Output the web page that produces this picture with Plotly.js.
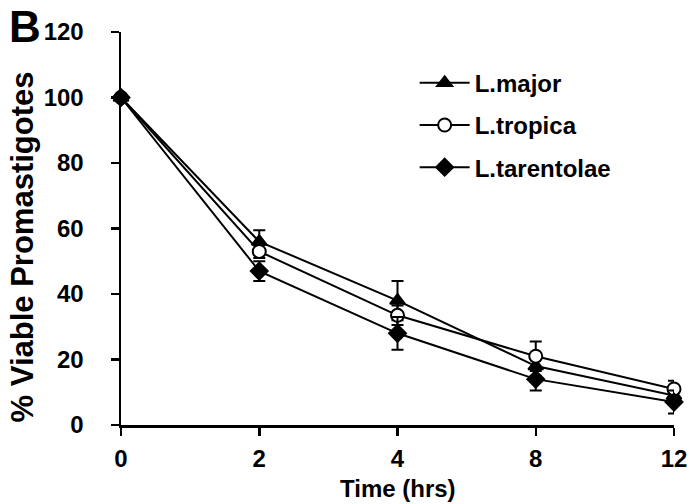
<!DOCTYPE html>
<html>
<head>
<meta charset="utf-8">
<script src="https://cdn.plot.ly/plotly-3.0.1.min.js"></script>
<style>html,body{margin:0;padding:0;background:#fff;}#chart{width:690px;height:504px;}</style>
</head>
<body>
<div id="chart"></div>
<script>
const timeLabels = ['0', '2', '4', '8', '12'];
const majorVals = [100, 56, 38, 18, 9];
const majorErr = [0, 3.5, 6, 3, 2];
const tropicaVals = [100, 53, 33.5, 21, 11];
const tropicaErr = [0, 2, 3, 4.5, 2.5];
const tarentolaeVals = [100, 47, 28, 14, 7];
const tarentolaeErr = [0, 3, 5, 3.5, 3.5];
const seriesNames = ['L.major', 'L.tropica', 'L.tarentolae'];

const FONT = 'Liberation Sans, Arial, sans-serif';

function mk(name, vals, errs, symbol, fill, size, group) {
  return {
    type: 'scatter', mode: 'lines+markers', name: name,
    x: timeLabels, y: vals, legendgroup: group, cliponaxis: false,
    line: {color: '#000', width: 2},
    marker: {symbol: symbol, size: size, color: fill, line: {color: '#000', width: 2}},
    error_y: {type: 'data', array: errs, visible: true, color: '#000', thickness: 2, width: 6}
  };
}

const data = [
  mk(seriesNames[0], majorVals, majorErr, 'triangle-up', '#000', 13, 'a'),
  mk(seriesNames[1], tropicaVals, tropicaErr, 'circle', '#fff', 13, 'b'),
  mk(seriesNames[2], tarentolaeVals, tarentolaeErr, 'diamond', '#000', 13, 'c')
];

const layout = {
  width: 690, height: 504,
  margin: {l: 121, r: 16, t: 32, b: 79},
  paper_bgcolor: '#fff', plot_bgcolor: '#fff',
  font: {family: FONT, color: '#000', size: 24, weight: 'bold'},
  showlegend: true,
  legend: {
    x: 0.531, y: 0.927, xanchor: 'left', yanchor: 'top',
    font: {family: FONT, size: 24, color: '#000', weight: 'bold'},
    bgcolor: 'rgba(0,0,0,0)', tracegroupgap: 8, itemwidth: 50
  },
  xaxis: {
    type: 'category', range: [0, 4], showgrid: false, zeroline: false,
    showline: true, linecolor: '#000', linewidth: 2.5,
    ticks: 'outside', ticklen: 8, tickwidth: 2.5, tickcolor: '#000',
    ticklabelstandoff: 3,
    tickfont: {family: FONT, size: 24, color: '#000', weight: 'bold'}
  },
  yaxis: {
    range: [0, 120], dtick: 20, showgrid: false, zeroline: false,
    showline: true, linecolor: '#000', linewidth: 2.5,
    ticks: 'outside', ticklen: 8, tickwidth: 2.5, tickcolor: '#000',
    ticklabelstandoff: 22,
    tickfont: {family: FONT, size: 24, color: '#000', weight: 'bold'}
  },
  annotations: [
    {text: '% Viable Promastigotes', xref: 'paper', yref: 'paper', x: -0.179, y: 0.452,
     xanchor: 'center', yanchor: 'middle', textangle: -90, showarrow: false,
     font: {family: FONT, size: 31, color: '#000', weight: 'bold'}},
    {text: 'Time (hrs)', xref: 'paper', yref: 'paper', x: 0.5, y: -0.162,
     xanchor: 'center', yanchor: 'middle', showarrow: false,
     font: {family: FONT, size: 24, color: '#000', weight: 'bold'}},
    {text: 'B', xref: 'paper', yref: 'paper', x: -0.1736, y: 1.0814,
     xanchor: 'center', yanchor: 'top', showarrow: false,
     font: {family: FONT, size: 44, color: '#000', weight: 'bold'}}
  ]
};

Plotly.newPlot('chart', data, layout, {displayModeBar: false, staticPlot: true});
</script>
</body>
</html>
